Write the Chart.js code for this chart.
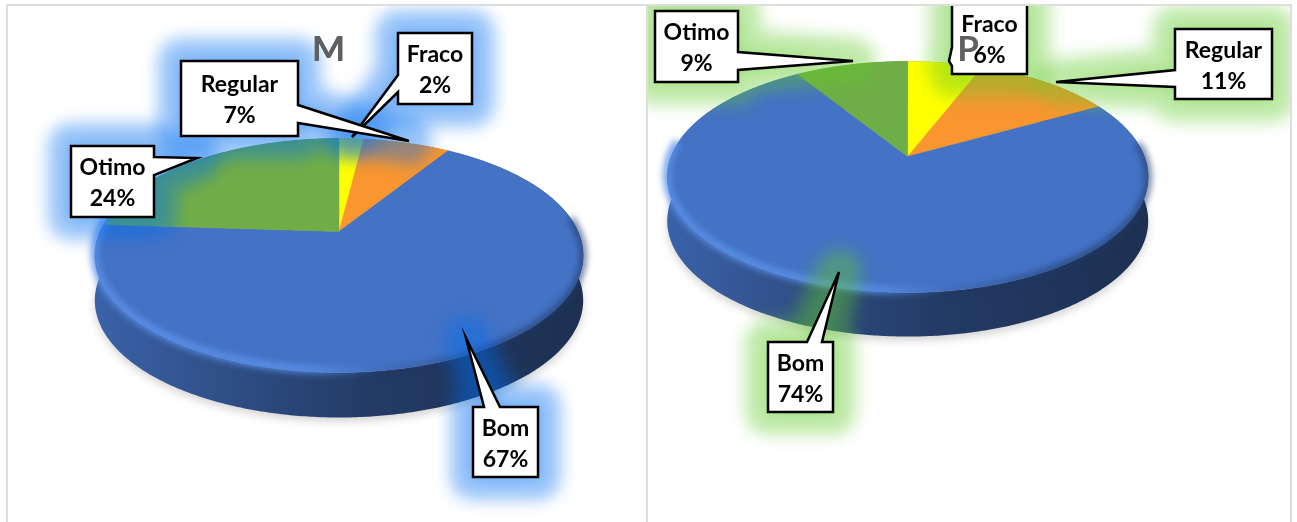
<!DOCTYPE html>
<html>
<head>
<meta charset="utf-8">
<script src="https://cdn.jsdelivr.net/npm/chart.js@4"></script>
<style>
    html, body { margin: 0; padding: 0; background: #ffffff; overflow: hidden; }
    canvas { position: absolute; top: 6px; }
    #chartM { left: 8px; }
    #chartP { left: 648px; }
    .linha { position: absolute; background: #dddddd; }
</style>
</head>
<body>
<div class="linha" style="left:6px;top:4px;width:1285px;height:2px"></div>
<div class="linha" style="left:6px;top:4px;width:2px;height:518px"></div>
<div class="linha" style="left:646px;top:4px;width:2px;height:518px"></div>
<div class="linha" style="left:1290px;top:4px;width:2px;height:518px"></div>
<canvas id="chartM" width="638" height="516"></canvas>
<canvas id="chartP" width="642" height="516"></canvas>
<script>
var categorias = ['Fraco', 'Regular', 'Bom', 'Otimo']
var valoresM = [2, 7, 67, 24]
var valoresP = [6, 11, 74, 9]
var cores = ['#FFFF00', '#F9962F', '#4472C4', '#70AD47']

// caixas dos rotulos em coordenadas da pagina: x, y, w, h, lado da seta, base da seta e ponta
var caixasM = [
    { x: 398, y: 33, w: 74, h: 71, lado: 'esq', base: [75, 92], ponta: [352, 137] },
    { x: 181, y: 61, w: 117, h: 75, lado: 'dir', base: [105, 123], ponta: [409, 141] },
    { x: 473, y: 407, w: 65, h: 70, lado: 'topo', base: [484, 500], ponta: [466, 338] },
    { x: 71, y: 146, w: 83, h: 71, lado: 'dir', base: [157, 175], ponta: [197, 158] }
]
var caixasP = [
    { x: 952, y: 2, w: 75, h: 72, lado: 'esq', base: [47, 66], ponta: [949, 61] },
    { x: 1175, y: 29, w: 97, h: 70, lado: 'esq', base: [70, 87], ponta: [1056, 82] },
    { x: 768, y: 342, w: 65, h: 70, lado: 'topo', base: [807, 822], ponta: [839, 272] },
    { x: 655, y: 11, w: 83, h: 71, lado: 'dir', base: [52, 70], ponta: [853, 61] }
]

function escurecer(hex, f) {
    var r = parseInt(hex.substr(1, 2), 16) * f
    var g = parseInt(hex.substr(3, 2), 16) * f
    var b = parseInt(hex.substr(5, 2), 16) * f
    return `rgb(${Math.round(r)}, ${Math.round(g)}, ${Math.round(b)})`
}

// projeta um ponto do disco (angulo em radianos) com perspectiva
function projetar(el, cfg, ang) {
    var x = Math.cos(ang)
    var y = Math.sin(ang)
    var w = 1 - cfg.persp * y
    return {
        x: el.x + el.outerRadius * x / w,
        y: el.y + el.outerRadius * cfg.incl * y / w
    }
}

function tracarBorda(ctx, el, cfg, ini, fim, desl, inverso) {
    var passos = Math.max(2, Math.ceil(Math.abs(fim - ini) / 0.01))
    for (var i = 0; i <= passos; i++) {
        var t = inverso ? 1 - i / passos : i / passos
        var p = projetar(el, cfg, ini + (fim - ini) * t)
        ctx.lineTo(p.x, p.y + desl)
    }
}

function caminhoCaixa(ctx, c) {
    ctx.beginPath()
    ctx.moveTo(c.x, c.y)
    if (c.lado == 'topo') {
        ctx.lineTo(c.base[0], c.y)
        ctx.lineTo(c.ponta[0], c.ponta[1])
        ctx.lineTo(c.base[1], c.y)
    }
    ctx.lineTo(c.x + c.w, c.y)
    if (c.lado == 'dir') {
        ctx.lineTo(c.x + c.w, c.base[0])
        ctx.lineTo(c.ponta[0], c.ponta[1])
        ctx.lineTo(c.x + c.w, c.base[1])
    }
    ctx.lineTo(c.x + c.w, c.y + c.h)
    ctx.lineTo(c.x, c.y + c.h)
    if (c.lado == 'esq') {
        ctx.lineTo(c.x, c.base[1])
        ctx.lineTo(c.ponta[0], c.ponta[1])
        ctx.lineTo(c.x, c.base[0])
    }
    ctx.closePath()
}

var pizza3d = {
    id: 'pizza3d',
    afterLayout: function (chart, args, opts) {
        // titulo centrado na area toda, nao no centro da pizza
        chart.titleBlock.left += opts.tituloDx
        chart.titleBlock.right += opts.tituloDx
    },
    beforeDatasetDraw: function (chart, args, opts) {
        var ctx = chart.ctx
        var arcos = chart.getDatasetMeta(0).data
        var el = arcos[0]
        var rx = el.outerRadius / Math.sqrt(1 - opts.persp * opts.persp)
        var tau = Math.PI * 2

        // sombra embaixo da pizza
        ctx.save()
        ctx.filter = 'blur(4px)'
        ctx.fillStyle = 'rgba(0, 0, 0, 0.17)'
        ctx.beginPath()
        tracarBorda(ctx, el, opts, 0, tau, opts.altura + 4)
        ctx.closePath()
        ctx.fill()
        ctx.restore()

        // lateral
        arcos.forEach(function (arco) {
            var cor = arco.options.backgroundColor
            var grad = ctx.createLinearGradient(el.x - rx, 0, el.x + rx, 0)
            grad.addColorStop(0, escurecer(cor, 0.86))
            grad.addColorStop(0.25, escurecer(cor, 0.7))
            grad.addColorStop(0.55, escurecer(cor, 0.52))
            grad.addColorStop(1, escurecer(cor, 0.42))
            ctx.fillStyle = grad
            ctx.beginPath()
            tracarBorda(ctx, el, opts, arco.startAngle, arco.endAngle, 0)
            tracarBorda(ctx, el, opts, arco.startAngle, arco.endAngle, opts.altura, true)
            ctx.closePath()
            ctx.fill()
        })

        // fatias
        arcos.forEach(function (arco) {
            ctx.fillStyle = arco.options.backgroundColor
            ctx.strokeStyle = arco.options.backgroundColor
            ctx.lineWidth = 0.5
            ctx.beginPath()
            ctx.moveTo(el.x, el.y)
            tracarBorda(ctx, el, opts, arco.startAngle, arco.endAngle, 0)
            ctx.closePath()
            ctx.fill()
            ctx.stroke()
        })

        // chanfro claro na esquerda, escuro na direita
        ctx.save()
        ctx.filter = 'blur(3.5px)'
        var gradClaro = ctx.createLinearGradient(el.x - rx, 0, el.x + rx, 0)
        gradClaro.addColorStop(0, '#5c92ea')
        gradClaro.addColorStop(0.42, '#5c92ea')
        gradClaro.addColorStop(0.58, 'rgba(92, 146, 234, 0)')
        ctx.strokeStyle = gradClaro
        ctx.lineWidth = 7
        ctx.beginPath()
        tracarBorda(ctx, el, opts, Math.PI * 0.4, Math.PI + 0.12, -2)
        ctx.stroke()

        var gradEscuro = ctx.createLinearGradient(el.x - rx, 0, el.x + rx, 0)
        gradEscuro.addColorStop(0.55, 'rgba(31, 56, 100, 0)')
        gradEscuro.addColorStop(0.8, 'rgba(31, 56, 100, 0.9)')
        ctx.strokeStyle = gradEscuro
        ctx.lineWidth = 5
        ctx.beginPath()
        tracarBorda(ctx, el, opts, -0.12, Math.PI * 0.6, 0)
        ctx.stroke()
        ctx.restore()

        return false
    },
    afterDraw: function (chart, args, opts) {
        var ctx = chart.ctx
        var valores = chart.data.datasets[0].data

        ctx.save()
        ctx.translate(-opts.origem[0], -opts.origem[1])

        // brilho em volta dos rotulos
        opts.caixas.forEach(function (c) {
            ctx.save()
            ctx.filter = 'blur(8px)'
            ctx.globalAlpha = 0.4
            ctx.fillStyle = opts.brilho
            ctx.strokeStyle = opts.brilho
            ctx.lineWidth = 46
            ctx.lineJoin = 'round'
            caminhoCaixa(ctx, c)
            ctx.stroke()
            ctx.fill()
            ctx.restore()
        })

        opts.caixas.forEach(function (c, i) {
            caminhoCaixa(ctx, c)
            ctx.fillStyle = '#ffffff'
            ctx.fill()
            ctx.strokeStyle = '#000000'
            ctx.lineWidth = 2.5
            ctx.lineJoin = 'miter'
            ctx.stroke()

            ctx.fillStyle = '#000000'
            ctx.font = 'bold 23px Lato'
            ctx.textAlign = 'center'
            ctx.textBaseline = 'middle'
            var meio = c.x + c.w / 2
            var centro = c.y + c.h / 2
            ctx.fillText(chart.data.labels[i], meio, centro - 13.5)
            ctx.fillText(valores[i] + '%', meio, centro + 17.5)
        })
        ctx.restore()

        // o titulo fica por cima das caixas
        chart.titleBlock.draw()
    }
}

function criarGrafico(id, titulo, valores, raio, padding, cfg) {
    return new Chart(document.getElementById(id), {
        type: 'pie',
        data: {
            labels: categorias,
            datasets: [{ data: valores, backgroundColor: cores, borderWidth: 0, radius: raio }]
        },
        options: {
            responsive: false,
            animation: false,
            layout: { padding: padding },
            plugins: {
                legend: { display: false },
                tooltip: { enabled: false },
                title: {
                    display: true,
                    text: titulo,
                    color: '#606060',
                    font: { family: 'Lato', size: 35, weight: 'bold' },
                    padding: { top: 23, bottom: 0 }
                },
                pizza3d: cfg
            }
        },
        plugins: [pizza3d]
    })
}

criarGrafico('chartM', 'M', valoresM, 239, { left: 24, bottom: 130 }, {
    persp: 0.205, incl: 0.469, altura: 45, tituloDx: -10.5,
    caixas: caixasM, origem: [8, 6], brilho: 'rgb(0, 110, 240)'
})
criarGrafico('chartP', 'P', valoresP, 236.7, { right: 122.6, bottom: 280 }, {
    persp: 0.177, incl: 0.473, altura: 44, tituloDx: 60.5,
    caixas: caixasP, origem: [648, 6], brilho: 'rgb(97, 202, 42)'
})
</script>
</body>
</html>
